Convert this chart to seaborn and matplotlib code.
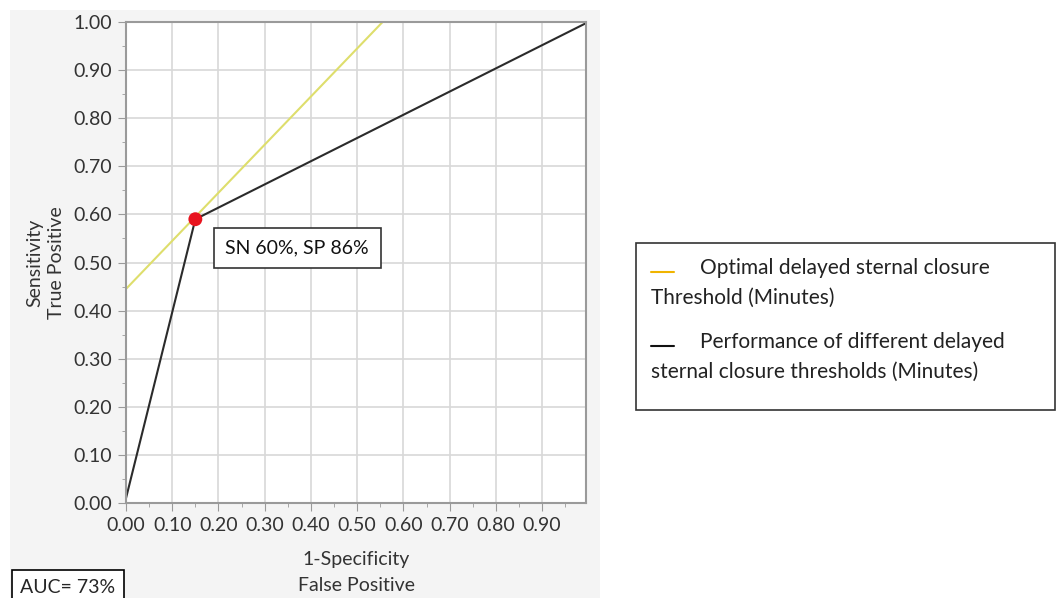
import numpy as np
import pandas as pd
import seaborn as sns
import matplotlib.pyplot as plt
from matplotlib.patches import Rectangle
from matplotlib.lines import Line2D

# ROC curve points (1-specificity, sensitivity)
roc_fpr = [0.0, 0.15, 1.0]
roc_tpr = [0.01, 0.59, 1.0]
# optimal threshold line
opt_fpr = [0.0, 0.555]
opt_tpr = [0.445, 1.0]
# optimal point
best_fpr = [0.15]
best_tpr = [0.59]
best_label = "SN 60%, SP 86%"
auc_label = "AUC= 73%"
legend_labels = ["Optimal delayed sternal closure\nThreshold (Minutes)",
                 "Performance of different delayed\nsternal closure thresholds (Minutes)"]

sns.set_style("white")
plt.rcParams['font.family'] = ['Lato', 'DejaVu Sans']

fig = plt.figure(figsize=(10.59, 5.98), dpi=100)
fig.patch.set_facecolor("white")
fig.patches.append(Rectangle((10 / 1059, 0), 590 / 1059, 588 / 598, transform=fig.transFigure,
                             facecolor="#f4f4f4", edgecolor="none", zorder=0))

ax = fig.add_axes([126 / 1059, 95 / 598, 460 / 1059, 481 / 598])
ax.set_zorder(2)
ax.set_facecolor("white")

roc = pd.DataFrame({"fpr": roc_fpr, "tpr": roc_tpr})
opt = pd.DataFrame({"fpr": opt_fpr, "tpr": opt_tpr})
sns.lineplot(data=opt, x="fpr", y="tpr", color="#dede6c", lw=1.5, ax=ax, sort=False)
sns.lineplot(data=roc, x="fpr", y="tpr", color="#2b2b2b", lw=1.5, ax=ax, sort=False)
sns.scatterplot(x=best_fpr, y=best_tpr, color="#e8141e", s=100, edgecolor="none", ax=ax, zorder=5)

ax.annotate(best_label, xy=(best_fpr[0], best_tpr[0]), xytext=(0.37, 0.53),
            fontsize=14, ha="center", va="center", color="#111111",
            bbox=dict(boxstyle="square,pad=0.6", fc="white", ec="#333333", lw=1.2))

ax.set_xlim(0, 0.995)
ax.set_ylim(0, 1.0)
ax.set_xticks(np.arange(0, 0.91, 0.1))
ax.set_xticklabels([f"{v:.2f}" for v in np.arange(0, 0.91, 0.1)])
ax.set_yticks(np.arange(0, 1.01, 0.1))
ax.set_yticklabels([f"{v:.2f}" for v in np.arange(0, 1.01, 0.1)])
ax.set_xticks(np.arange(0.05, 1.0, 0.1), minor=True)
ax.set_yticks(np.arange(0.05, 1.0, 0.1), minor=True)
ax.grid(True, which="major", color="#d8d8d8", lw=1.2)
ax.set_axisbelow(True)
ax.tick_params(axis="both", which="major", length=6, color="#9a9a9a", labelsize=14,
               labelcolor="#333333", bottom=True, left=True, pad=4)
ax.tick_params(axis="both", which="minor", length=3, color="#9a9a9a", bottom=True, left=True)
for s in ax.spines.values():
    s.set_color("#9a9a9a")
    s.set_linewidth(1.5)
ax.set_xlabel("1-Specificity\nFalse Positive", fontsize=14, color="#333333", labelpad=12,
              linespacing=1.7)
ax.set_ylabel("Sensitivity\nTrue Positive", fontsize=14, color="#333333", labelpad=6,
              linespacing=1.3)

# AUC box at bottom-left
fig.text(68 / 1059, 2 / 598, auc_label, fontsize=14, ha="center", va="bottom",
         bbox=dict(boxstyle="square,pad=0.45", fc="white", ec="black", lw=1.2))

# legend box
fig.patches.append(Rectangle((636 / 1059, 188 / 598), 419 / 1059, 167 / 598, transform=fig.transFigure,
                             facecolor="white", edgecolor="#333333", lw=1.2))
fig.lines.append(Line2D([651 / 1059, 674 / 1059], [326 / 598, 326 / 598], transform=fig.transFigure,
                        color="#f0b400", lw=1.5))
fig.text(700 / 1059, 330 / 598, legend_labels[0].split("\n")[0], fontsize=15, va="center", color="#222222")
fig.text(651 / 1059, 300 / 598, legend_labels[0].split("\n")[1], fontsize=15, va="center", color="#222222")
fig.lines.append(Line2D([651 / 1059, 674 / 1059], [252 / 598, 252 / 598], transform=fig.transFigure,
                        color="#111111", lw=1.5))
fig.text(700 / 1059, 256 / 598, legend_labels[1].split("\n")[0], fontsize=15, va="center", color="#222222")
fig.text(651 / 1059, 226 / 598, legend_labels[1].split("\n")[1], fontsize=15, va="center", color="#222222")

fig.savefig("out.png", dpi=100)
